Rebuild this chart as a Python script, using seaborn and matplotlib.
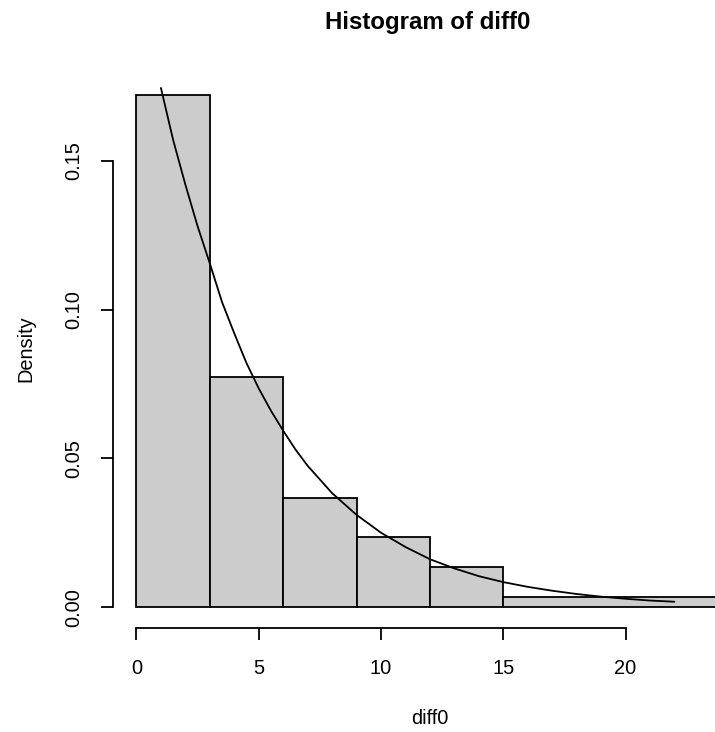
import numpy as np
import pandas as pd
import matplotlib
matplotlib.use("Agg")
import matplotlib.pyplot as plt
import seaborn as sns

# ---- data ----
bin_edges = [0, 3, 6, 9, 12, 15, 24]
bin_density = [0.1722, 0.0775, 0.0368, 0.0236, 0.0134, 0.0033]

curve_x = [1, 1.5, 2, 2.5, 3, 3.5, 4, 4.5, 5, 5.5, 6, 6.5, 7, 8, 9, 10, 11, 12, 13, 14,
           15, 16, 17, 18, 19, 20, 21, 22]
curve_y = [0.1745, 0.157, 0.142, 0.128, 0.1155, 0.1025, 0.092, 0.082, 0.0735, 0.066,
           0.0593, 0.053, 0.0475, 0.0383, 0.031, 0.025, 0.0202, 0.0161, 0.013, 0.0104,
           0.0084, 0.0068, 0.0055, 0.0044, 0.0035, 0.0028, 0.0022, 0.0018]

x_ticks = [0, 5, 10, 15, 20]
y_ticks = [0.00, 0.05, 0.10, 0.15]
y_tick_labels = ["0.00", "0.05", "0.10", "0.15"]

title = "Histogram of diff0"
xlabel = "diff0"
ylabel = "Density"

# ---- plotting ----
sns.set_style("white")
plt.rcParams["font.family"] = ["Liberation Sans", "DejaVu Sans"]
plt.rcParams["text.color"] = "black"

W, H = 715, 732
fig = plt.figure(figsize=(W / 100, H / 100), dpi=100)
ax_left = 113 / W
ax_bottom = (H - 627.7) / H
ax_top = (H - 71) / H
ax = fig.add_axes([ax_left, ax_bottom, 1.0 - ax_left, ax_top - ax_bottom])

mids = [(bin_edges[i] + bin_edges[i + 1]) / 2 for i in range(len(bin_density))]
hist_df = pd.DataFrame({"x": mids, "w": bin_density})
sns.histplot(data=hist_df, x="x", weights="w", bins=bin_edges, stat="count",
             color="#CCCCCC", alpha=1.0, edgecolor="black", linewidth=1.3, ax=ax)

curve_df = pd.DataFrame({"x": curve_x, "y": curve_y})
sns.lineplot(data=curve_df, x="x", y="y", color="black", linewidth=1.3, ax=ax)

ax.set_xlim(-0.96, (W - 137) / 24.43)
ax.set_ylim(-0.00693, 0.1802)

for s in ["top", "right"]:
    ax.spines[s].set_visible(False)
ax.spines["bottom"].set_bounds(0, 20)
ax.spines["left"].set_bounds(0, 0.15)
for s in ["bottom", "left"]:
    ax.spines[s].set_linewidth(1.3)
    ax.spines[s].set_color("black")

ax.set_xticks(x_ticks)
ax.set_xticklabels([str(t) for t in x_ticks])
ax.set_yticks(y_ticks)
ax.set_yticklabels(y_tick_labels)
ax.tick_params(axis="both", which="major", bottom=True, left=True, direction="out",
               length=8.5, width=1.3, color="black", labelsize=14.4, labelcolor="black")
ax.tick_params(axis="x", pad=14)
ax.tick_params(axis="y", pad=13)
plt.setp(ax.get_yticklabels(), rotation=90, va="center", ha="right")

ax.set_xlabel("")
ax.set_ylabel("")
fig.text(430 / W, 1 - 719 / H, xlabel, ha="center", va="center", fontsize=14.4, color="black")
fig.text(26 / W, 1 - 349 / H, ylabel, ha="center", va="center", rotation=90,
         fontsize=14.4, color="black")
fig.text(428 / W, 1 - 23 / H, title, ha="center", va="center", fontsize=17.3,
         fontweight="bold", color="black")

fig.savefig("out.png", dpi=100)
